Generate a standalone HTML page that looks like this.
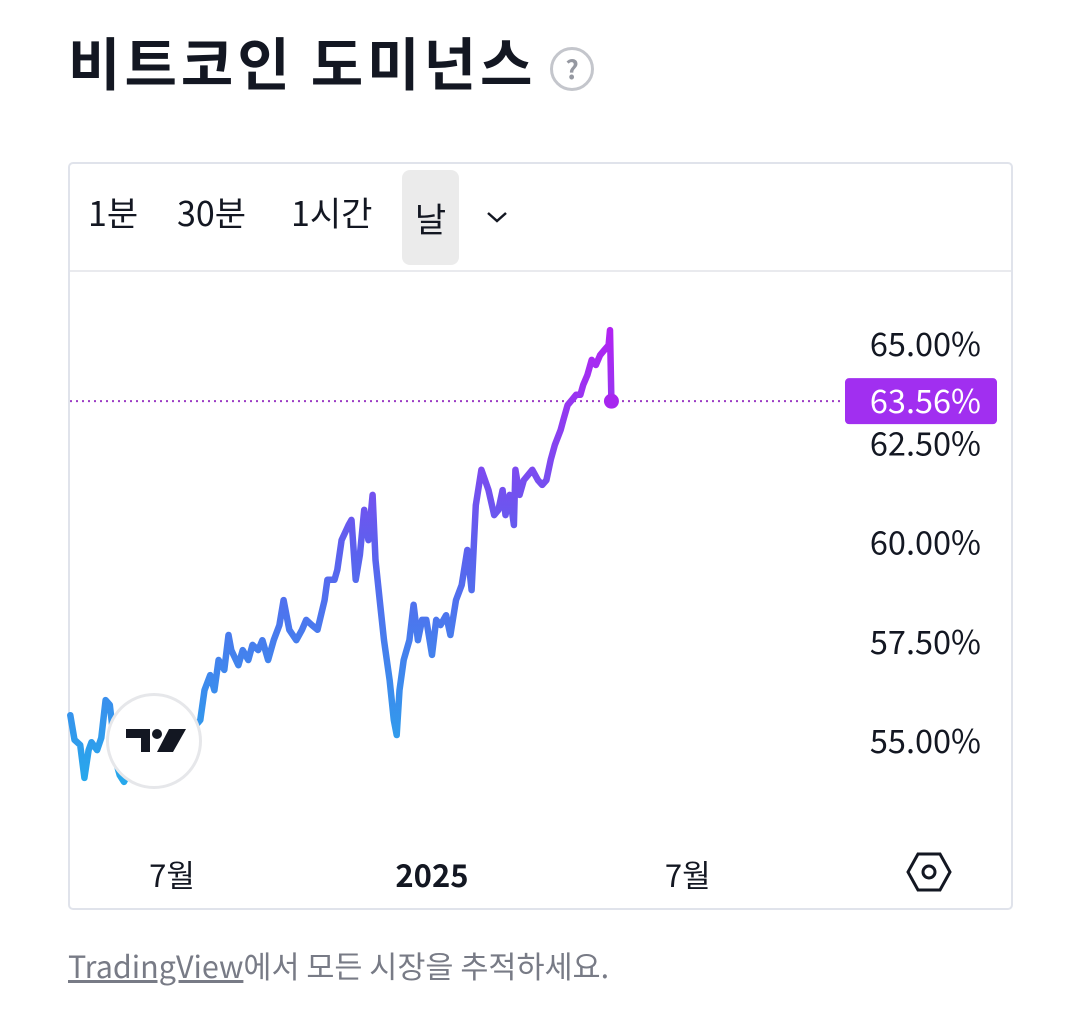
<!DOCTYPE html>
<html><head><meta charset="utf-8"><style>
body{margin:0;width:1080px;height:1025px;background:#fff;font-family:"Noto Sans CJK KR","Liberation Sans",sans-serif;color:#131722;position:relative;overflow:hidden}
.abs{position:absolute;line-height:1}
</style></head><body>
<div class="abs" style="left:68px;top:33px;font-size:57px;font-weight:bold;letter-spacing:4px;white-space:nowrap">비트코인 도미넌스</div>
<div class="abs" style="left:550px;top:47px;width:38px;height:38px;border:3px solid #c4c6cc;border-radius:50%;color:#9598a1;font-size:26px;font-weight:bold;text-align:center;line-height:38px;box-sizing:content-box">?</div>
<div class="abs" style="left:68px;top:162px;width:945px;height:748px;border:2px solid #e0e3eb;border-radius:5px;box-sizing:border-box"></div>
<div class="abs" style="left:70px;top:270px;width:941px;height:2px;background:#e9eaee"></div>
<div class="abs" style="left:88px;top:195px;font-size:34px">1분</div>
<div class="abs" style="left:177px;top:195px;font-size:34px">30분</div>
<div class="abs" style="left:291px;top:195px;font-size:34px">1시간</div>
<div class="abs" style="left:402px;top:170px;width:57px;height:95px;background:#ebebeb;border-radius:8px;font-size:34px;text-align:center;line-height:95px">날</div>
<svg class="abs" style="left:486px;top:210px" width="22" height="14"><path d="M2 3 L11 11 L20 3" fill="none" stroke="#131722" stroke-width="2.5"/></svg>
<svg class="abs" id="chart" style="left:0;top:0" width="1080" height="1025"></svg>
<div class="abs" style="left:106px;top:693px;width:90px;height:90px;border:3px solid #e6e7ea;border-radius:50%;background:#fff">
<svg width="90" height="90"><path d="M17 33 H41 V56 H32 V42 H17 Z" fill="#131722"/><circle cx="48" cy="38" r="5" fill="#131722"/><path d="M60 33 H77 L64 56 H48 Z" fill="#131722"/></svg></div>
<svg class="abs" style="left:906px;top:851px" width="46" height="42"><polygon points="12,3 34,3 44,21 34,39 12,39 2,21" fill="none" stroke="#131722" stroke-width="3"/><circle cx="23" cy="21" r="6" fill="none" stroke="#131722" stroke-width="3"/></svg>
<div class="abs" style="left:68px;top:950px;font-size:30.5px;color:#787b86;white-space:nowrap"><span style="text-decoration:underline">TradingView</span>에서 모든 시장을 추적하세요.</div>
<script>
const days=[-72,-69,-65,-62,-59,-57,-53,-50,-47,-44,-42,-40,-37,-34,-26,-16,-5,6,14,20,23,27,30,33,37,40,42,47,50,54,57,61,64,68,72,76,79,83,88,92,95,99,103,108,110,115,117,120,125,127,130,133,136,139,142,144,147,150,154,157,159,161,164,168,171,174,177,180,184,187,190,194,197,201,205,209,212,215,219,224,228,231,234,236,239,242,243,246,249,252,255,259,262,265,268,271,275,277,280,283,286,289,291,294,297,300,303,306,309,310,311];
const values=[55.65,55.03,54.90,54.07,54.77,54.97,54.77,55.08,56.03,55.91,55.28,54.52,54.14,53.97,54.52,55.03,54.90,55.15,55.28,55.53,56.28,56.66,56.28,57.04,56.79,57.67,57.29,56.91,57.29,57.04,57.42,57.29,57.54,57.04,57.54,57.92,58.55,57.80,57.54,57.80,58.05,57.92,57.80,58.55,59.06,59.06,59.31,60.06,60.44,60.57,59.06,59.69,60.82,60.06,61.20,59.56,58.55,57.54,56.54,55.53,55.15,56.28,57.04,57.54,58.43,57.54,58.05,58.05,57.17,58.05,57.92,58.17,57.67,58.55,58.93,59.81,58.80,60.94,61.83,61.32,60.69,60.82,61.32,60.69,61.20,60.44,61.83,61.20,61.57,61.70,61.83,61.57,61.45,61.57,62.08,62.46,62.83,63.09,63.46,63.59,63.72,63.72,63.97,64.22,64.60,64.47,64.72,64.85,64.97,65.35,63.56];
const yTicks=[65,62.5,60,57.5,55];
const xTickDays=[0,184,365];
const xTickLabels=['7월','2025','7월'];
const lastValue=63.56;
const NS='http://www.w3.org/2000/svg';
const svg=document.getElementById('chart');
const X=d=>172+d*1.413;
const Y=v=>344+(65-v)*39.7;
function mk(t,a,p){const e=document.createElementNS(NS,t);for(const k in a)e.setAttribute(k,a[k]);(p||svg).appendChild(e);return e;}
const defs=mk('defs',{});
const g=mk('linearGradient',{id:'lg',gradientUnits:'userSpaceOnUse',x1:0,y1:Y(54),x2:0,y2:Y(65.3)},defs);
mk('stop',{offset:0,'stop-color':'#27a8ec'},g);
mk('stop',{offset:0.5,'stop-color':'#5a63ee'},g);
mk('stop',{offset:1,'stop-color':'#b223f2'},g);
const dl=mk('line',{x1:70,x2:843,y1:Y(lastValue),y2:Y(lastValue),stroke:'#9c3cc4','stroke-width':2,'stroke-dasharray':'2 4'});


const pts=days.map((d,i)=>X(d).toFixed(1)+','+Y(values[i]).toFixed(1)).join(' ');
const pl=mk('polyline',{points:pts,fill:'none',stroke:'url(#lg)','stroke-width':6.5,'stroke-linejoin':'round','stroke-linecap':'round'});


const dot=mk('circle',{cx:X(days[days.length-1]),cy:Y(values[values.length-1]),r:7.5,fill:'#a726ef'});


yTicks.forEach(v=>{const t=mk('text',{x:981,y:Y(v)+12,'text-anchor':'end','font-size':32.5,fill:'#131722'});t.textContent=v.toFixed(2)+'%';

});
const box=mk('rect',{x:845,y:Y(lastValue)-23,width:152,height:46,rx:4,fill:'#a12ff0'});


const bt=mk('text',{x:981,y:Y(lastValue)+12,'text-anchor':'end','font-size':32.5,fill:'#fff'});bt.textContent=lastValue.toFixed(2)+'%';


xTickDays.forEach((d,i)=>{const t=mk('text',{x:X(d),y:887,'text-anchor':'middle','font-size':31,fill:'#131722','font-weight':xTickLabels[i]==='2025'?'bold':'normal'});t.textContent=xTickLabels[i];

});
</script>
</body></html>
